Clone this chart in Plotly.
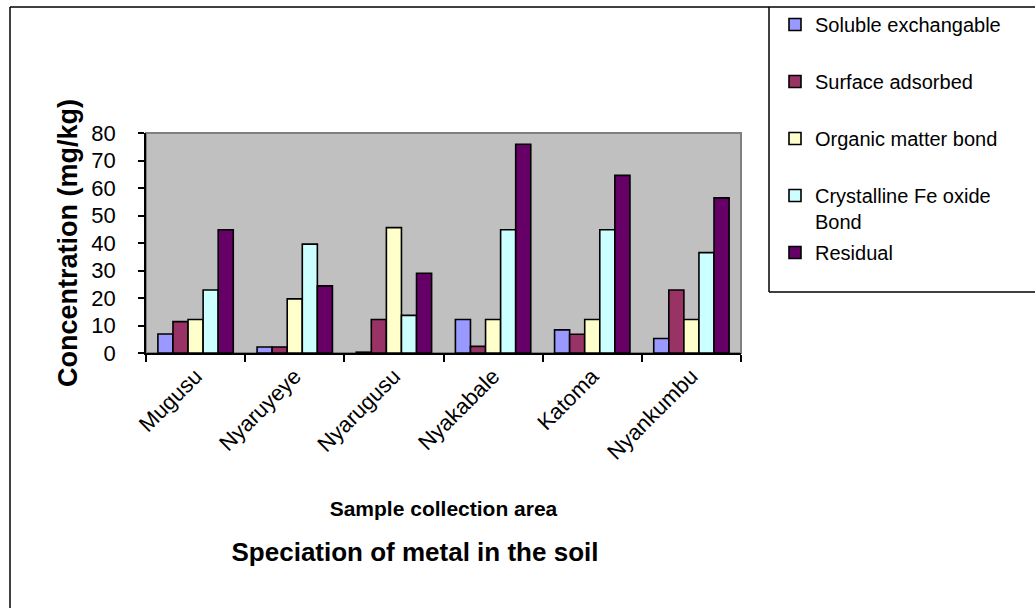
import plotly.graph_objects as go

# Sampling sites
areas = ["Mugusu", "Nyaruyeye", "Nyarugusu", "Nyakabale", "Katoma", "Nyankumbu"]

# Metal fractions (mg/kg) per site
soluble_exchangable = [6.9, 2.2, 0.3, 12.2, 8.4, 5.3]
surface_adsorbed = [11.4, 2.2, 12.2, 2.4, 6.8, 22.9]
organic_matter_bond = [12.2, 19.7, 45.6, 12.2, 12.2, 12.2]
crystalline_fe_oxide_bond = [22.9, 39.6, 13.7, 44.8, 44.8, 36.5]
residual = [44.8, 24.4, 29.0, 75.9, 64.6, 56.4]

y_ticks = [0, 10, 20, 30, 40, 50, 60, 70, 80]

series = [
    ("Soluble exchangable<br> ", soluble_exchangable, "#9999FF"),
    ("Surface adsorbed<br> ", surface_adsorbed, "#993366"),
    ("Organic matter bond<br> ", organic_matter_bond, "#FFFFCC"),
    ("Crystalline Fe oxide<br>Bond", crystalline_fe_oxide_bond, "#CCFFFF"),
    ("Residual<br> ", residual, "#660066"),
]

FONT = "Liberation Sans, Arial, sans-serif"

W, H = 1035, 608
L, R, T, B = 146, 741, 133, 353  # plot area in pixels


def px(x):
    return (x - L) / (R - L)


def py(y):
    return (B - y) / (B - T)


fig = go.Figure()
for i, (name, vals, color) in enumerate(series):
    fig.add_trace(go.Bar(
        x=areas, y=vals, name=name, legendgroup=f"g{i}",
        marker=dict(color=color, line=dict(color="black", width=1.6)),
    ))

shapes = [
    # plot-area frame
    dict(type="rect", xref="paper", yref="paper", x0=0, x1=1, y0=0, y1=1,
         line=dict(color="#808080", width=2), layer="below"),
    # outer chart border (left and top)
    dict(type="line", xref="paper", yref="paper", x0=px(10), x1=px(10),
         y0=py(620), y1=py(7), line=dict(color="black", width=1.5)),
    dict(type="line", xref="paper", yref="paper", x0=px(10), x1=px(1045),
         y0=py(7), y1=py(7), line=dict(color="black", width=1.5)),
    # legend box
    dict(type="line", xref="paper", yref="paper", x0=px(769), x1=px(769),
         y0=py(292), y1=py(7), line=dict(color="black", width=1.5)),
    dict(type="line", xref="paper", yref="paper", x0=px(769), x1=px(1045),
         y0=py(292), y1=py(292), line=dict(color="black", width=1.5)),
]

fig.update_layout(
    width=W, height=H,
    margin=dict(l=L, r=W - R, t=T, b=H - B, autoexpand=False),
    paper_bgcolor="white",
    plot_bgcolor="#C0C0C0",
    barmode="group",
    bargap=0.24,
    bargroupgap=0,
    font=dict(family=FONT, color="black"),
    title=dict(text="<b>Speciation of metal in the soil</b>",
               font=dict(size=26, family=FONT, color="black"),
               xref="container", yref="container",
               x=415 / W, y=1 - 552 / H, xanchor="center", yanchor="middle"),
    legend=dict(x=px(775), y=py(5), xanchor="left", yanchor="top",
                font=dict(size=20, family=FONT), bgcolor="rgba(0,0,0,0)",
                borderwidth=0, valign="top", tracegroupgap=2, itemwidth=30),
    shapes=shapes,
    xaxis=dict(
        type="category", tickson="boundaries", ticks="outside", ticklen=7,
        tickwidth=1.5, tickcolor="black", showline=True, linecolor="black",
        linewidth=1.5, tickangle=-45, tickfont=dict(size=22, family=FONT),
        showgrid=False,
        title=dict(text="<b>Sample collection area</b>",
                   font=dict(size=21, family=FONT), standoff=38),
    ),
    yaxis=dict(
        range=[0, 80], tickvals=y_ticks, ticks="outside", ticklen=6,
        tickwidth=1.5, tickcolor="black", showline=True, linecolor="black",
        linewidth=1.5, showgrid=False, zeroline=False,
        tickfont=dict(size=22, family=FONT), ticklabelstandoff=18,
        title=dict(text="<b>Concentration (mg/kg)</b>",
                   font=dict(size=27, family=FONT), standoff=6),
    ),
)

fig.write_html("out.html")
